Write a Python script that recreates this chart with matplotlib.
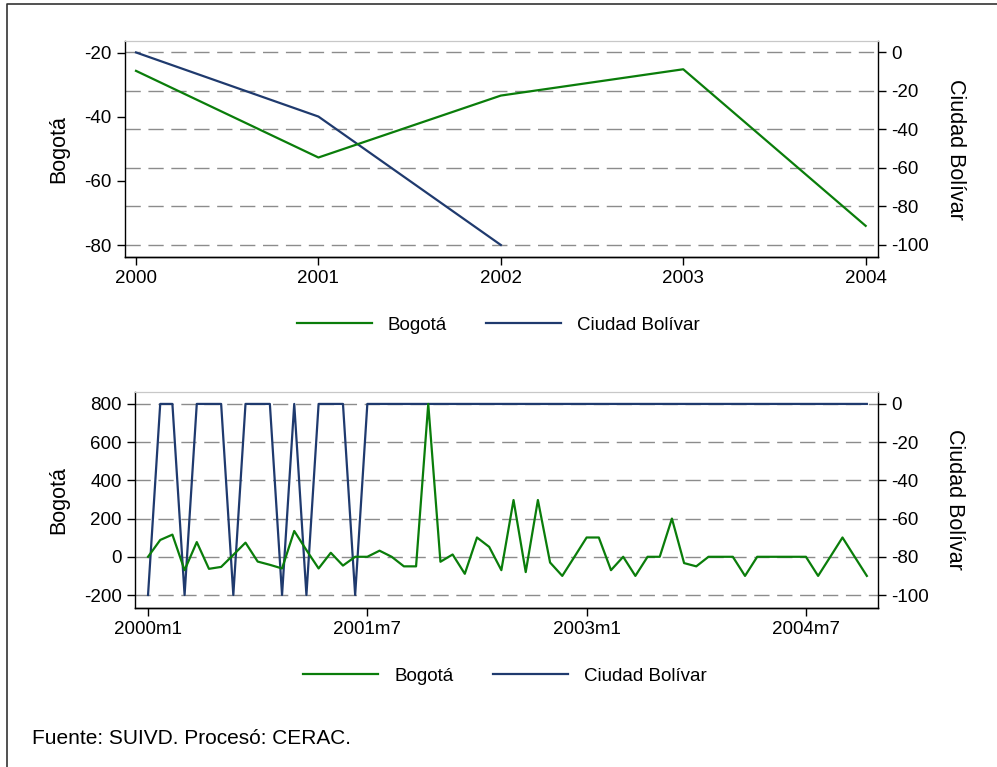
import matplotlib
matplotlib.use("Agg")
import matplotlib.pyplot as plt
from matplotlib.lines import Line2D
import numpy as np

plt.rcParams['font.family'] = ['Liberation Sans', 'DejaVu Sans']
plt.rcParams['axes.unicode_minus'] = False

# ---------------- data ----------------
years = [2000, 2001, 2002, 2003, 2004]
bogota_year = [-25.7, -52.7, -33.4, -25.2, -74.0]
bolivar_year = [0.0, -33.3, -100.0, np.nan, np.nan]

month_labels = ["2000m1", "2001m7", "2003m1", "2004m7"]
month_label_pos = [0, 18, 36, 54]
bogota_month = [
    0, 88, 116, -70, 77, -63, -53, 10, 74, -25,
    -42, -61, 135, 35, -61, 21, -46, 0, 0, 32,
    0, -50, -50, 800, -26, 12, -89, 101, 52, -70,
    297, -80, 297, -30, -100, 0, 101, 101, -70, 0,
    -100, 0, 0, 200, -33, -50, 0, 0, 0, -100,
    0, 0, 0, 0, 0, -100, 0, 101, 0, -100,
]
bolivar_month = [
    -100, 0, 0, -100, 0, 0, 0, -100, 0, 0,
    0, -100, 0, -100, 0, 0, 0, -100, 0, 0,
] + [0] * 40
months = list(range(len(bogota_month)))

GREEN = "#0a7d0a"
NAVY = "#1f3a6e"
BG = "#efefef"
GRID = "#8c8c8c"
FS_TICK = 13.5
FS_LAB = 15.5

W, H = 997, 767
fig = plt.figure(figsize=(W / 100, H / 100), dpi=100)


def frac_rect(l, t, r, b):
    return [l / W, 1 - b / H, (r - l) / W, (b - t) / H]


def style_pair(ax, ax2):
    ax.set_zorder(ax2.get_zorder() + 1)
    ax.patch.set_visible(False)
    ax2.set_facecolor(BG)
    ax2.grid(True, axis='y', color=GRID, linestyle=(0, (11, 5.5)), linewidth=1.0)
    for a in (ax, ax2):
        for s in ('left', 'bottom', 'right'):
            a.spines[s].set_color('black')
            a.spines[s].set_linewidth(1.0)
        a.spines['top'].set_color('#c8c8c8')
        a.spines['top'].set_linewidth(0.8)
        a.tick_params(axis='both', labelsize=FS_TICK, length=5.5, width=1.0, pad=4)
    ax.spines['right'].set_visible(False)
    ax2.spines['left'].set_visible(False)


# ---------------- top panel ----------------
ax = fig.add_axes(frac_rect(124.7, 40.7, 877.7, 257.3))
ax2 = ax.twinx()
style_pair(ax, ax2)
ax.plot(years, bogota_year, color=GREEN, lw=1.6, label="Bogotá")
ax2.plot(years, bolivar_year, color=NAVY, lw=1.6, label="Ciudad Bolívar")
ax.set_xlim(1999.938, 2004.066)
ax.set_ylim(-83.8, -16.3)
ax2.set_ylim(-106.4, 6.1)
ax.set_xticks(years)
ax.set_xticklabels([str(y) for y in years])
ax.set_yticks([-20, -40, -60, -80])
ax2.set_yticks([0, -20, -40, -60, -80, -100])
ax.set_ylabel("Bogotá", fontsize=FS_LAB, va='center')
ax.yaxis.set_label_coords(-0.0873, 0.5)
ax2.set_ylabel("Ciudad Bolívar", fontsize=FS_LAB, rotation=270, va='center')
ax2.yaxis.set_label_coords(1.103, 0.5)

# ---------------- bottom panel ----------------
bx = fig.add_axes(frac_rect(135, 391.7, 878.3, 608))
bx2 = bx.twinx()
style_pair(bx, bx2)
bx.plot(months, bogota_month, color=GREEN, lw=1.6, label="Bogotá")
bx2.plot(months, bolivar_month, color=NAVY, lw=1.6, label="Ciudad Bolívar")
bx.set_xlim(-1.07, 59.94)
bx.set_ylim(-268, 864)
bx2.set_ylim(-106.8, 6.4)
bx.set_xticks(month_label_pos)
bx.set_xticklabels(month_labels)
bx.set_yticks([800, 600, 400, 200, 0, -200])
bx2.set_yticks([0, -20, -40, -60, -80, -100])
bx.set_ylabel("Bogotá", fontsize=FS_LAB, va='center')
bx.yaxis.set_label_coords(-0.102, 0.5)
bx2.set_ylabel("Ciudad Bolívar", fontsize=FS_LAB, rotation=270, va='center')
bx2.yaxis.set_label_coords(1.1025, 0.5)

# ---------------- legends ----------------
handles = [Line2D([], [], color=GREEN, lw=1.6), Line2D([], [], color=NAVY, lw=1.6)]
names = ["Bogotá", "Ciudad Bolívar"]
for yc, xc in ((325, 498.5), (676, 505)):
    fig.legend(handles, names, loc='center', bbox_to_anchor=(xc / W, 1 - yc / H),
               ncol=2, frameon=False, fontsize=FS_TICK, handlelength=4.0,
               handletextpad=0.85, columnspacing=2.1, borderpad=0, borderaxespad=0)

# ---------------- caption & frame ----------------
fig.text(32 / W, 1 - 738 / H, "Fuente: SUIVD. Procesó: CERAC.", fontsize=15,
         ha='left', va='center')
fig.add_artist(Line2D([7 / W, 7 / W, 1.0], [0.0, 1 - 4 / H, 1 - 4 / H],
                      transform=fig.transFigure, color='#333333', lw=1.2))

fig.savefig("out.png", dpi=100)
